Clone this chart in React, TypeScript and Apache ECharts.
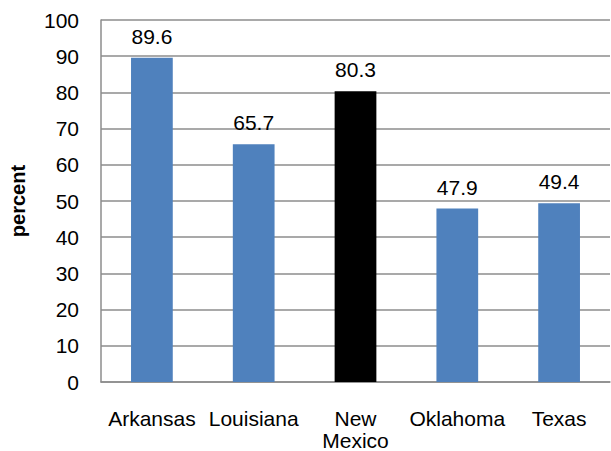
import React, { useEffect, useRef } from 'react'
import * as echarts from 'echarts'

const states = ['Arkansas', 'Louisiana', 'New\nMexico', 'Oklahoma', 'Texas']
const percents = [89.6, 65.7, 80.3, 47.9, 49.4]
const barColors = ['#4F81BD', '#4F81BD', '#000000', '#4F81BD', '#4F81BD']

const font = '"Liberation Sans", Arial, sans-serif'

export default function App() {
  const chartRef = useRef<HTMLDivElement>(null)

  useEffect(() => {
    if (!chartRef.current) return
    const chart = echarts.init(chartRef.current, undefined, { renderer: 'svg' })
    chart.setOption({
      animation: false,
      grid: { left: 101, right: 1, top: 20, bottom: 69, containLabel: false, outerBoundsMode: 'none' },
      xAxis: {
        type: 'category',
        data: states,
        axisLine: { show: true, lineStyle: { color: '#8c8c8c', width: 1.5 } },
        axisTick: { show: false },
        axisLabel: {
          color: '#000',
          fontSize: 21,
          fontFamily: font,
          margin: 25,
          lineHeight: 22,
          interval: 0,
        },
      },
      yAxis: {
        type: 'value',
        min: 0,
        max: 100,
        interval: 10,
        name: 'percent',
        nameLocation: 'middle',
        nameGap: 73,
        nameTextStyle: { color: '#000', fontSize: 20, fontWeight: 'bold', fontFamily: font },
        axisLine: { show: true, lineStyle: { color: '#8c8c8c', width: 1.5 } },
        axisTick: { show: false },
        axisLabel: { color: '#000', fontSize: 21, fontFamily: font, margin: 22 },
        splitLine: { show: true, lineStyle: { color: '#8c8c8c', width: 1.5 } },
      },
      series: [
        {
          type: 'bar',
          barWidth: '41%',
          data: percents.map((v, i) => ({ value: v, itemStyle: { color: barColors[i] } })),
          label: {
            show: true,
            position: 'top',
            distance: 11,
            color: '#000',
            fontSize: 21,
            fontFamily: font,
            formatter: (p: any) => p.value.toFixed(1),
          },
        },
      ],
    })
    return () => chart.dispose()
  }, [])

  return <div ref={chartRef} style={{ width: 611, height: 451, position: 'absolute', left: 0, top: 0 }} />
}
